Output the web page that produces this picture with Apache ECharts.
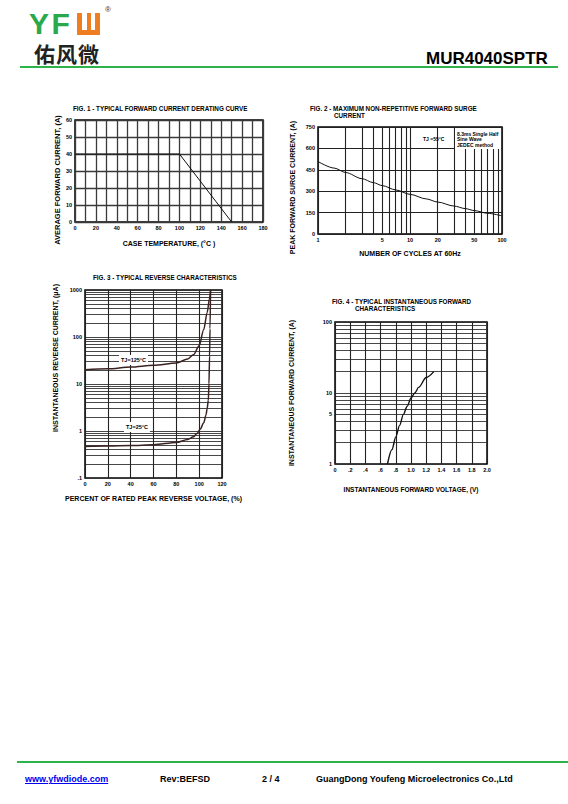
<!DOCTYPE html>
<html lang="en">
<head>
<meta charset="UTF-8">
<title>MUR4040SPTR</title>
<script src="https://cdn.jsdelivr.net/npm/echarts@6/dist/echarts.min.js"></script>
<style>
  body { margin: 0; background: #fff; font-family: "Liberation Sans", Arial, sans-serif; }
  #page { position: relative; width: 568px; height: 804px; overflow: hidden; }
  #main { position: absolute; left: 0; top: 0; width: 568px; height: 804px; }
  .abs { position: absolute; white-space: nowrap; line-height: 1; }
  .logo { left: 29px; top: 12px; font-size: 30px; line-height: 24px; font-weight: bold; color: #2aa84a; letter-spacing: 2.5px; }
  .w { position: absolute; left: 77px; top: 13px; width: 23px; height: 22px; background: #ef7d22; }
  .w i { position: absolute; top: 0; width: 5px; height: 17px; background: #fff; }
  .reg { left: 105px; top: 6px; font-size: 8px; color: #333; }
  .cn { left: 34px; top: 43px; font-size: 21px; line-height: 21px; font-family: "Noto Sans CJK SC", sans-serif; font-weight: bold; color: #222; letter-spacing: 1px; }
  .rule { position: absolute; height: 2px; background: #2db34a; }
  .part { left: 426px; top: 50px; font-size: 17px; font-weight: bold; color: #000; }
  .foot { top: 775px; font-size: 9px; font-weight: bold; color: #000; }
  .foot a { color: #0000ee; }
</style>
</head>
<body>
<div id="page">
  <div id="main"></div>
  <div class="abs logo">YF</div>
  <div class="w"><i style="left:5px"></i><i style="left:14px;width:4px"></i></div>
  <div class="abs reg">®</div>
  <div class="abs cn">佑风微</div>
  <div class="rule" style="left:20px;top:66px;width:538px"></div>
  <div class="abs part">MUR4040SPTR</div>
  <div class="rule" style="left:17px;top:761px;width:551px"></div>
  <div class="abs foot" style="left:25px"><a href="#">www.yfwdiode.com</a></div>
  <div class="abs foot" style="left:160px">Rev:BEFSD</div>
  <div class="abs foot" style="left:262px">2 / 4</div>
  <div class="abs foot" style="left:316px">GuangDong Youfeng Microelectronics Co.,Ltd</div>
</div>
<script type="text/javascript">
  // Fig. 1 - derating curve
  var fig1Temp = [0, 100, 150];
  var fig1Current = [40, 40, 0];

  // Fig. 2 - surge current vs cycles (log x)
  var fig2Cycles = [1, 1.5, 2, 3, 4, 5, 7, 10, 15, 20, 30, 40, 50, 70, 100];
  var fig2Surge = [508, 462, 431, 388, 360, 339, 309, 278, 246, 224, 196, 178, 164, 145, 127];
  var fig2GridX = [1, 2, 3, 4, 5, 6, 7, 8, 9, 10, 20, 30, 40, 50, 60, 70, 80, 90, 100];
  var fig2LabelX = [1, 5, 10, 20, 50, 100];

  // Fig. 3 - reverse characteristics (log y)
  var fig3Pct125 = [0, 20, 40, 60, 80, 90, 95, 100, 104, 107, 109, 110];
  var fig3Cur125 = [20, 21, 23, 25, 28, 34, 42, 65, 145, 330, 650, 1000];
  var fig3Pct25 = [0, 20, 40, 60, 80, 90, 95, 98, 101, 104, 106, 107, 108, 108.6, 109.1, 109.5, 110];
  var fig3Cur25 = [0.47, 0.48, 0.49, 0.51, 0.57, 0.66, 0.75, 0.88, 1.1, 1.5, 2.2, 3, 4.5, 10, 40, 150, 1000];
  var fig3GridY = [0.1, 0.2, 0.3, 0.4, 0.5, 0.6, 0.7, 0.8, 0.9, 1, 2, 3, 4, 5, 6, 7, 8, 9,
    10, 20, 30, 40, 50, 60, 70, 80, 90, 100, 200, 300, 400, 500, 600, 700, 800, 900, 1000];
  var fig3LabelY = [0.1, 1, 10, 100, 1000];

  // Fig. 4 - forward characteristics (log y)
  var fig4Volt = [0.69, 0.75, 0.8, 0.85, 0.9, 0.95, 1.0, 1.05, 1.1, 1.2, 1.3];
  var fig4Amp = [1, 1.6, 2.4, 3.5, 5, 6.5, 8.5, 10, 12, 16.5, 20];
  var fig4GridY = [1, 2, 3, 4, 5, 6, 7, 8, 9, 10, 20, 30, 40, 50, 60, 70, 80, 90, 100];
  var fig4LabelY = [1, 5, 10, 100];

  var FONT = '"Liberation Sans", Arial, sans-serif';

  function pairs(xs, ys) {
    return xs.map(function (x, i) { return [x, ys[i]]; });
  }
  function label(fmt) {
    return { fontFamily: FONT, fontSize: 5.5, fontWeight: 'bold', color: '#000', margin: 3, formatter: fmt };
  }
  function nameStyle(size, pad) {
    return { fontFamily: FONT, fontSize: size, fontWeight: 'bold', color: '#000', padding: pad || 0 };
  }
  function split(color, width) {
    return { show: true, lineStyle: { color: color, width: width, type: 'solid' } };
  }
  var axisLine = { show: false };
  var noTick = { show: false };

  function titleText(x, y, text) {
    return {
      left: x, top: y, padding: 0, text: text,
      textStyle: { fontFamily: FONT, fontSize: 6.3, fontWeight: 'bold', color: '#000' }
    };
  }
  function lineSeries(idx, data, color, width) {
    return {
      type: 'line', xAxisIndex: idx, yAxisIndex: idx, data: data,
      showSymbol: false, smooth: 0.3, smoothMonotone: 'x', silent: true,
      lineStyle: { color: color, width: width }
    };
  }
  function frame(l, t, w, h) {
    return {
      left: l, top: t, width: w, height: h, show: true,
      borderColor: '#000', borderWidth: 1.5, backgroundColor: 'transparent', outerBoundsMode: 'none'
    };
  }

  var chart = echarts.init(document.getElementById('main'), null, { renderer: 'svg' });

  var option = {
    animation: false,
    backgroundColor: '#fff',
    title: [
      titleText(73, 105, 'FIG. 1 - TYPICAL FORWARD CURRENT DERATING CURVE'),
      titleText(310, 105, 'FIG. 2 - MAXIMUM NON-REPETITIVE FORWARD SURGE'),
      titleText(334, 112, 'CURRENT'),
      titleText(93, 274, 'FIG. 3 - TYPICAL REVERSE CHARACTERISTICS'),
      titleText(332, 298, 'FIG. 4 - TYPICAL INSTANTANEOUS FORWARD'),
      titleText(355, 305, 'CHARACTERISTICS')
    ],
    grid: [
      frame(75, 120, 188, 102),
      frame(318, 127, 184, 107),
      frame(85, 290, 137, 188),
      frame(335, 322, 152, 142)
    ],
    xAxis: [
      {
        gridIndex: 0, type: 'value', min: 0, max: 180, interval: 10,
        axisLine: axisLine, axisTick: noTick, splitLine: split('#3a3a3a', 1.3),
        axisLabel: label(function (v) { return v % 20 === 0 ? String(v) : ''; }),
        name: 'CASE TEMPERATURE, (°C )', nameLocation: 'middle', nameGap: 17.5, nameTextStyle: nameStyle(7)
      },
      {
        gridIndex: 1, type: 'log', logBase: 10, min: 1, max: 100,
        axisLine: axisLine, axisTick: { show: false, customValues: fig2GridX },
        splitLine: split('#222', 1.1),
        axisLabel: Object.assign(label(function (v) { return String(v); }), { customValues: fig2LabelX }),
        name: 'NUMBER OF CYCLES AT 60Hz', nameLocation: 'middle', nameGap: 15.5, nameTextStyle: nameStyle(7)
      },
      {
        gridIndex: 2, type: 'value', min: 0, max: 120, interval: 20,
        axisLine: axisLine, axisTick: noTick, splitLine: split('#222', 1.1),
        axisLabel: label(function (v) { return String(v); }),
        name: 'PERCENT OF RATED PEAK REVERSE VOLTAGE, (%)', nameLocation: 'middle', nameGap: 16.5, nameTextStyle: nameStyle(7)
      },
      {
        gridIndex: 3, type: 'value', min: 0, max: 2, interval: 0.2,
        axisLine: axisLine, axisTick: noTick, splitLine: split('#222', 1.1),
        axisLabel: label(function (v) {
          if (v === 0) return '0';
          if (v < 1) return '.' + Math.round(v * 10);
          return v.toFixed(1);
        }),
        name: 'INSTANTANEOUS FORWARD VOLTAGE, (V)', nameLocation: 'middle', nameGap: 21.5, nameTextStyle: nameStyle(6.5)
      }
    ],
    yAxis: [
      {
        gridIndex: 0, type: 'value', min: 0, max: 60, interval: 10,
        axisLine: axisLine, axisTick: noTick, splitLine: split('#3a3a3a', 1.3),
        axisLabel: label(function (v) { return String(v); }),
        name: 'AVERAGE FORWARD CURRENT, (A)', nameLocation: 'middle', nameGap: 14, nameTextStyle: nameStyle(7.5, [0, 18, 0, 0])
      },
      {
        gridIndex: 1, type: 'value', min: 0, max: 750, interval: 150,
        axisLine: axisLine, axisTick: noTick, splitLine: split('#222', 1.1),
        axisLabel: label(function (v) { return String(v); }),
        name: 'PEAK FORWARD SURGE CURRENT, (A)', nameLocation: 'middle', nameGap: 22, nameTextStyle: nameStyle(7, [0, 14, 0, 0])
      },
      {
        gridIndex: 2, type: 'log', logBase: 10, min: 0.1, max: 1000,
        axisLine: axisLine, axisTick: { show: false, customValues: fig3GridY },
        splitLine: split('#333', 0.9),
        axisLabel: Object.assign(label(function (v) { return v < 1 ? '.1' : String(v); }), { customValues: fig3LabelY }),
        name: 'INSTANTANEOUS REVERSE CURRENT, (μA)', nameLocation: 'middle', nameGap: 26, nameTextStyle: nameStyle(7, [0, 0, 0, 52])
      },
      {
        gridIndex: 3, type: 'log', logBase: 10, min: 1, max: 100,
        axisLine: axisLine, axisTick: { show: false, customValues: fig4GridY },
        splitLine: split('#333', 0.9),
        axisLabel: Object.assign(label(function (v) { return String(v); }), { customValues: fig4LabelY }),
        name: 'INSTANTANEOUS FORWARD CURRENT, (A)', nameLocation: 'middle', nameGap: 40, nameTextStyle: nameStyle(7)
      }
    ],
    series: [
      Object.assign(lineSeries(0, pairs(fig1Temp, fig1Current), '#111', 1), { smooth: false }),
      lineSeries(1, pairs(fig2Cycles, fig2Surge), '#111', 1),
      lineSeries(2, pairs(fig3Pct125, fig3Cur125), '#3b2222', 1.5),
      lineSeries(2, pairs(fig3Pct25, fig3Cur25), '#3b2222', 1.5),
      lineSeries(3, pairs(fig4Volt, fig4Amp), '#111', 1.4)
    ],
    graphic: [
      { type: 'text', z: 100, left: 423, top: 136,
        style: { text: 'TJ =55°C', fontFamily: FONT, fontSize: 5, fontWeight: 'bold', fill: '#000' } },
      { type: 'rect', z: 99, shape: { x: 455, y: 128, width: 46, height: 21 }, style: { fill: '#fff' } },
      { type: 'text', z: 100, left: 457, top: 131,
        style: { text: '8.3ms Single Half\nSine Wave\nJEDEC method', fontFamily: FONT, fontSize: 5,
          lineHeight: 5.6, fontWeight: 'bold', fill: '#000' } },
      { type: 'text', z: 100, left: 119, top: 355,
        style: { text: 'TJ=125°C', fontFamily: FONT, fontSize: 5.5, fontWeight: 'bold', fill: '#000',
          backgroundColor: '#fff', padding: [2, 2] } },
      { type: 'text', z: 100, left: 124, top: 422,
        style: { text: 'TJ=25°C', fontFamily: FONT, fontSize: 5.5, fontWeight: 'bold', fill: '#000',
          backgroundColor: '#fff', padding: [2, 2] } }
    ]
  };
  chart.setOption(option);
</script>
</body>
</html>
